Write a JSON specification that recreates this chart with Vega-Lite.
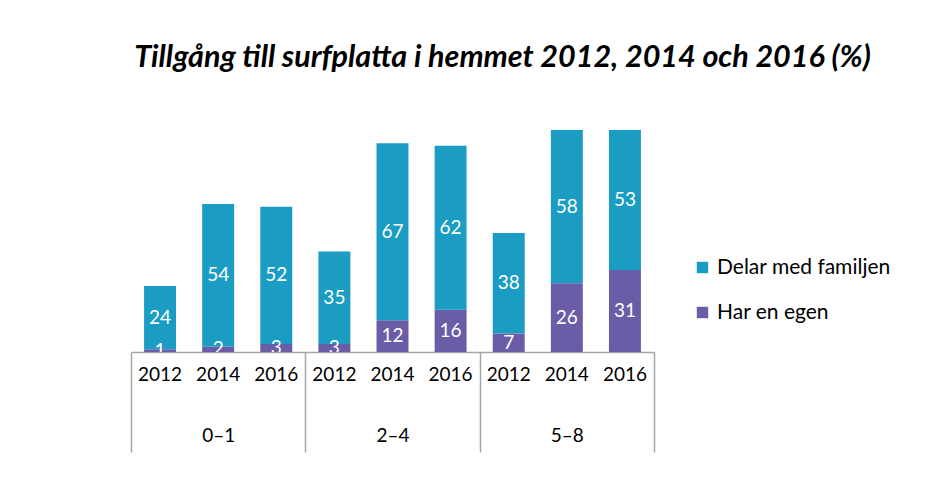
{
  "$schema": "https://vega.github.io/schema/vega-lite/v6.json",
  "autosize": {"type": "none"},
  "width": 523,
  "height": 222,
  "padding": {"left": 131, "top": 130, "right": 295, "bottom": 146},
  "background": "white",
  "config": {"view": {"stroke": null}, "font": "Lato"},
  "title": {
    "text": "Tillgång till surfplatta i hemmet 2012, 2014 och 2016 (%)",
    "font": "Lato",
    "fontSize": 30.5,
    "fontWeight": "bold",
    "fontStyle": "italic",
    "color": "#000000",
    "anchor": "middle",
    "frame": "group",
    "dx": 110,
    "offset": 57
  },
  "data": {
    "values": [
      {"key": "0–1 2012", "group": "0–1", "type": "Har en egen", "value": 1},
      {"key": "0–1 2012", "group": "0–1", "type": "Delar med familjen", "value": 24},
      {"key": "0–1 2014", "group": "0–1", "type": "Har en egen", "value": 2},
      {"key": "0–1 2014", "group": "0–1", "type": "Delar med familjen", "value": 54},
      {"key": "0–1 2016", "group": "0–1", "type": "Har en egen", "value": 3},
      {"key": "0–1 2016", "group": "0–1", "type": "Delar med familjen", "value": 52},
      {"key": "2–4 2012", "group": "2–4", "type": "Har en egen", "value": 3},
      {"key": "2–4 2012", "group": "2–4", "type": "Delar med familjen", "value": 35},
      {"key": "2–4 2014", "group": "2–4", "type": "Har en egen", "value": 12},
      {"key": "2–4 2014", "group": "2–4", "type": "Delar med familjen", "value": 67},
      {"key": "2–4 2016", "group": "2–4", "type": "Har en egen", "value": 16},
      {"key": "2–4 2016", "group": "2–4", "type": "Delar med familjen", "value": 62},
      {"key": "5–8 2012", "group": "5–8", "type": "Har en egen", "value": 7},
      {"key": "5–8 2012", "group": "5–8", "type": "Delar med familjen", "value": 38},
      {"key": "5–8 2014", "group": "5–8", "type": "Har en egen", "value": 26},
      {"key": "5–8 2014", "group": "5–8", "type": "Delar med familjen", "value": 58},
      {"key": "5–8 2016", "group": "5–8", "type": "Har en egen", "value": 31},
      {"key": "5–8 2016", "group": "5–8", "type": "Delar med familjen", "value": 53}
    ]
  },
  "layer": [
    {
      "encoding": {
        "x": {
          "field": "key", "type": "nominal", "sort": null,
          "scale": {"type": "band", "paddingInner": 0.45, "paddingOuter": 0.225},
          "axis": {
            "orient": "bottom", "title": null, "labelAngle": 0,
            "labelExpr": "slice(datum.label, -4)",
            "ticks": false, "domainColor": "#a6a6a6", "domainWidth": 1.5,
            "labelFontSize": 19, "labelColor": "#000000", "labelFont": "Lato",
            "labelPadding": 22, "labelBaseline": "middle"
          }
        },
        "y": {
          "field": "value", "type": "quantitative", "stack": "zero",
          "scale": {"domain": [0, 84], "nice": false}, "axis": null
        },
        "order": {"field": "type", "sort": "descending"}
      },
      "layer": [
        {
          "mark": {"type": "bar"},
          "encoding": {
            "color": {
              "field": "type", "type": "nominal",
              "scale": {"domain": ["Delar med familjen", "Har en egen"], "range": ["#1b9dc3", "#6b5ca7"]},
              "legend": {
                "title": null, "orient": "none", "legendX": 561, "legendY": 127,
                "symbolType": "square", "symbolSize": 130, "symbolStrokeWidth": 0,
                "labelFontSize": 21, "labelFont": "Lato", "labelColor": "#000000",
                "labelLimit": 300,
                "rowPadding": 23, "labelOffset": 4
              }
            }
          }
        },
        {
          "mark": {"type": "text", "color": "white", "fontSize": 19, "font": "Lato", "baseline": "middle", "clip": true},
          "encoding": {
            "y": {"field": "value", "type": "quantitative", "stack": "zero", "bandPosition": 0.5},
            "detail": {"field": "type"},
            "text": {"field": "value", "type": "quantitative"}
          }
        }
      ]
    },
    {
      "mark": {"type": "text", "text": ""},
      "encoding": {
        "x": {
          "field": "group", "type": "nominal", "sort": null,
          "scale": {"type": "band", "paddingInner": 0, "paddingOuter": 0},
          "axis": {
            "orient": "bottom", "title": null, "labelAngle": 0,
            "domain": false, "tickBand": "extent", "tickSize": 100,
            "tickColor": "#a6a6a6", "tickWidth": 1.5,
            "labelFontSize": 19, "labelColor": "#000000", "labelFont": "Lato",
            "labelPadding": -17, "labelBaseline": "middle"
          }
        }
      }
    }
  ],
  "resolve": {"scale": {"x": "independent"}, "axis": {"x": "independent"}}
}
